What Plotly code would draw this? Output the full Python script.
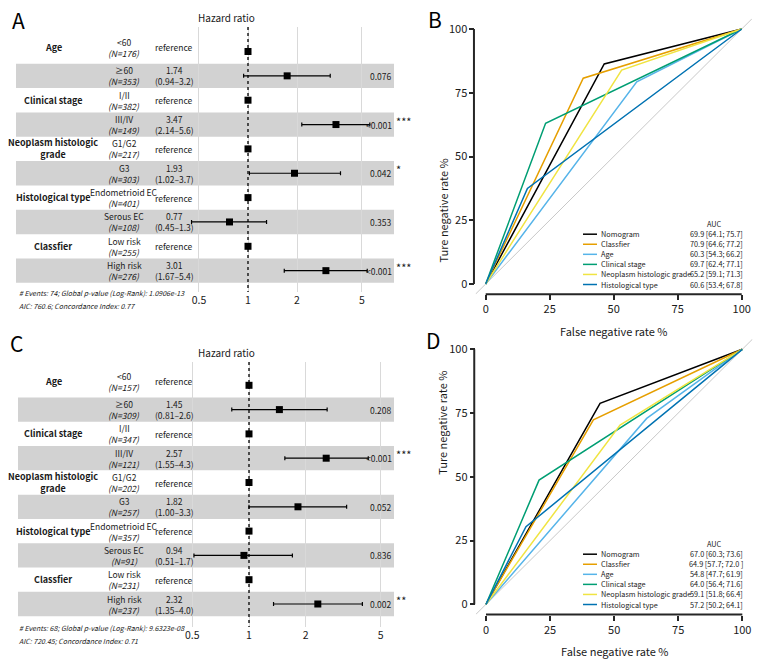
import plotly.graph_objects as go

W, H = 768, 672
FONT = "Noto Sans CJK JP, Liberation Sans, sans-serif"
TXT = "#1a1a1a"

# ---------------- data: forest plots ----------------
var_names = ["Age", "Clinical stage", "Neoplasm histologic|grade", "Histological type", "Classfier"]
var_rows = [1, 3, 5, 7, 9]
levels = ["<60", "≥60", "I/II", "III/IV", "G1/G2", "G3", "Endometrioid EC", "Serous EC", "Low risk", "High risk"]
hr_ticks = [0.5, 1, 2, 5]
hr_tick_text = ["0.5", "1", "2", "5"]

n_A = [176, 353, 382, 149, 217, 303, 401, 108, 255, 276]
hr_A = [1, 1.74, 1, 3.47, 1, 1.93, 1, 0.77, 1, 3.01]
lo_A = [None, 0.94, None, 2.14, None, 1.02, None, 0.45, None, 1.67]
hi_A = [None, 3.2, None, 5.6, None, 3.7, None, 1.3, None, 5.4]
p_A = [None, "0.076", None, "<0.001", None, "0.042", None, "0.353", None, "<0.001"]
sig_A = [None, "", None, "***", None, "*", None, "", None, "***"]
foot_A = ["# Events: 74; Global p-value (Log-Rank): 1.0906e-13", "AIC: 760.6; Concordance Index: 0.77"]

n_C = [157, 309, 347, 121, 202, 257, 357, 91, 231, 237]
hr_C = [1, 1.45, 1, 2.57, 1, 1.82, 1, 0.94, 1, 2.32]
lo_C = [None, 0.81, None, 1.55, None, 1.00, None, 0.51, None, 1.35]
hi_C = [None, 2.6, None, 4.3, None, 3.3, None, 1.7, None, 4.0]
p_C = [None, "0.208", None, "<0.001", None, "0.052", None, "0.836", None, "0.002"]
sig_C = [None, "", None, "***", None, "", None, "", None, "**"]
foot_C = ["# Events: 68; Global p-value (Log-Rank): 9.6323e-08", "AIC: 720.45; Concordance Index: 0.71"]

# ---------------- data: ROC curves ----------------
roc_models = ["Nomogram", "Classfier", "Age", "Clinical stage", "Neoplasm histologic grade", "Histological type"]
roc_colors = ["#000000", "#E69F00", "#56B4E9", "#009E73", "#F0E442", "#0072B2"]
fnr_B = [46.3, 38.1, 59.0, 23.4, 53.1, 16.3]
tnr_B = [86.3, 80.7, 79.3, 63.0, 83.9, 37.5]
auc_B = ["69.9 [64.1; 75.7]", "70.9 [64.6; 77.2]", "60.3 [54.3; 66.2]",
         "69.7 [62.4; 77.1]", "65.2 [59.1; 71.3]", "60.6 [53.4; 67.8]"]
fnr_D = [44.5, 41.9, 62.7, 20.7, 52.3, 15.6]
tnr_D = [78.8, 72.3, 72.9, 48.7, 70.3, 30.4]
auc_D = ["67.0 [60.3; 73.6]", "64.9 [57.7; 72.0 ]", "54.8 [47.7; 61.9]",
         "64.0 [56.4; 71.6]", "59.1 [51.8; 66.4]", "57.2 [50.2; 64.1]"]
roc_ticks = [0, 25, 50, 75, 100]


def px(x):
    return x / W


def py(y):
    return 1 - y / H


def esc(s):
    return s.replace("<", "&lt;")


fig = go.Figure()
anns = []
shapes = []
layout_axes = {}


def text(x, y, t, size=8.5, xanchor="center", xref="paper", yref="paper", yshift=0, color=TXT):
    anns.append(dict(x=x, y=y, text=t, xref=xref, yref=yref, xanchor=xanchor, yanchor="middle",
                     yshift=yshift, showarrow=False, font=dict(family=FONT, size=size, color=color)))


def forest(suffix, n, hr, lo, hi, pv, sig, foot, g):
    xr_, yr_ = "x" + suffix, "y" + suffix
    rows = list(range(1, len(hr) + 1))

    def v(p):
        return 1 + (p - g["r1"]) / g["pitch"]

    ref_i = [i for i in range(len(hr)) if lo[i] is None]
    est_i = [i for i in range(len(hr)) if lo[i] is not None]
    fig.add_trace(go.Scatter(x=[1, 1], y=[v(g["ytop"]), v(g["ybot"])], mode="lines",
                             line=dict(color="black", width=1.3, dash="dot"),
                             xaxis=xr_, yaxis=yr_, showlegend=False, hoverinfo="skip"))
    fig.add_trace(go.Scatter(x=[hr[i] for i in ref_i], y=[rows[i] for i in ref_i], mode="markers",
                             marker=dict(symbol="square", size=7, color="black"),
                             xaxis=xr_, yaxis=yr_, showlegend=False, hoverinfo="skip"))
    fig.add_trace(go.Scatter(x=[hr[i] for i in est_i], y=[rows[i] for i in est_i], mode="markers",
                             marker=dict(symbol="square", size=7, color="black"),
                             error_x=dict(type="data", symmetric=False,
                                          array=[hi[i] - hr[i] for i in est_i],
                                          arrayminus=[hr[i] - lo[i] for i in est_i],
                                          color="black", thickness=1.2, width=2),
                             xaxis=xr_, yaxis=yr_, showlegend=False, hoverinfo="skip"))
    layout_axes["xaxis" + suffix] = dict(
        domain=[px(g["xl"]), px(g["xr"])], type="log", anchor=yr_,
        range=[(g["xl"] - g["x1"]) / g["dec"], (g["xr"] - g["x1"]) / g["dec"]],
        tickvals=hr_ticks, ticktext=hr_tick_text, showgrid=True, gridcolor="#d9d9d9", gridwidth=1,
        zeroline=False, showline=False, ticks="", tickfont=dict(family=FONT, size=10.5, color=TXT))
    layout_axes["yaxis" + suffix] = dict(domain=[py(g["ybot"]), py(g["ytop"])], anchor=xr_,
                                         range=[v(g["ybot"]), v(g["ytop"])], visible=False)
    for r in rows:
        if r % 2 == 0:
            shapes.append(dict(type="rect", xref=xr_ + " domain", yref=yr_, x0=0, x1=1,
                               y0=r - 0.5, y1=r + 0.5, fillcolor="#d2d2d2", line=dict(width=0),
                               layer="below"))
    for name, r in zip(var_names, var_rows):
        s = 4 if r == 1 else 0
        label = "<br>".join("<b>" + p + "</b>" for p in name.split("|"))
        text(px(53), r, label, size=9, yref=yr_, yshift=s)
    for i, r in enumerate(rows):
        s = 4 if r == 1 else 0
        text(px(124), r, esc(levels[i]), yref=yr_, yshift=s + 5.5)
        text(px(124), r, "<i>(N=%d)</i>" % n[i], yref=yr_, yshift=s - 5.5)
        if lo[i] is None:
            text(px(174), r, "reference", yref=yr_, yshift=s)
        else:
            text(px(174), r, "%.2f" % hr[i], yref=yr_, yshift=s + 5.5)
            text(px(174), r, "(%.2f–%.1f)" % (lo[i], hi[i]), yref=yr_, yshift=s - 5.5)
            text(px(393.5), r, esc(pv[i]), yref=yr_, xanchor="right")
            if sig[i]:
                text(px(393.5), r, sig[i], size=11, yref=yr_, xanchor="left", yshift=4)
    text(px(226), py(g["ytop"] - 10), "Hazard ratio", size=10)
    text(px(17), py(g["ybot"] + 1), "<i>" + esc(foot[0]) + "</i>", size=7, xanchor="left")
    text(px(17), py(g["ybot"] + 14), "<i>" + esc(foot[1]) + "</i>", size=7, xanchor="left")


def roc(suffix, fnr, tnr, auc, g):
    xr_, yr_ = "x" + suffix, "y" + suffix
    ux = (g["x100"] - g["x0"]) / 100
    uy = (g["y0"] - g["y100"]) / 100
    xl, xr = g["x0"] - 4 * ux, g["x100"] + 4 * ux
    yb, yt = g["y0"] + 4 * uy, g["y100"] - 4 * uy
    fig.add_trace(go.Scatter(x=[-4, 104], y=[-4, 104], mode="lines", line=dict(color="#c8c8c8", width=1),
                             xaxis=xr_, yaxis=yr_, showlegend=False, hoverinfo="skip"))
    for m, c, fx, ty in zip(roc_models, roc_colors, fnr, tnr):
        fig.add_trace(go.Scatter(x=[0, fx, 100], y=[0, ty, 100], mode="lines", name=m,
                                 line=dict(color=c, width=1.5), xaxis=xr_, yaxis=yr_,
                                 showlegend=False, hoverinfo="skip"))
    ax_common = dict(range=[-4, 104], tickvals=roc_ticks, showgrid=False, zeroline=False, showline=False,
                     ticks="outside", ticklen=5, tickwidth=1.5, tickcolor="#262626",
                     tickfont=dict(family=FONT, size=11, color=TXT))
    layout_axes["xaxis" + suffix] = dict(domain=[px(xl), px(xr)], anchor=yr_, **ax_common)
    layout_axes["yaxis" + suffix] = dict(domain=[py(yb), py(yt)], anchor=xr_, **ax_common)
    shapes.append(dict(type="line", xref=xr_ + " domain", yref=yr_, x0=-1.5 / (xr - xl), x1=-1.5 / (xr - xl),
                       y0=0, y1=100, line=dict(color="#262626", width=2)))
    shapes.append(dict(type="line", xref=xr_, yref=yr_ + " domain", x0=0, x1=100, y0=0, y1=0,
                       line=dict(color="#262626", width=2)))
    text(px((g["x0"] + g["x100"]) / 2), py(g["y0"] + 47), "False negative rate %", size=11)
    anns.append(dict(x=px(442), y=py((g["y0"] + g["y100"]) / 2), text="Ture negative rate %", textangle=-90,
                     xref="paper", yref="paper", showarrow=False,
                     font=dict(family=FONT, size=11, color=TXT)))
    top = g["leg"]
    text(px(714), py(top - 10.5), "AUC", size=7.3)
    for i, (m, c, a) in enumerate(zip(roc_models, roc_colors, auc)):
        yy = top + i * 10.06
        shapes.append(dict(type="line", xref="paper", yref="paper", x0=px(583), x1=px(597),
                           y0=py(yy), y1=py(yy), line=dict(color=c, width=1.5)))
        text(px(598.5), py(yy), m, size=7.3, xanchor="left")
        text(px(745), py(yy), a, size=7.3, xanchor="right")


forest("", n_A, hr_A, lo_A, hi_A, p_A, sig_A, foot_A,
       dict(xl=16, xr=394, x1=248, dec=162.8, ytop=27, ybot=292, r1=51.5, pitch=24.35))
forest("3", n_C, hr_C, lo_C, hi_C, p_C, sig_C, foot_C,
       dict(xl=18, xr=394, x1=249, dec=188.3, ytop=362, ybot=627, r1=385.3, pitch=24.3))
roc("2", fnr_B, tnr_B, auc_B, dict(x0=485.7, x100=741.7, y0=284, y100=29, leg=234.2))
roc("4", fnr_D, tnr_D, auc_D, dict(x0=486, x100=742.3, y0=604.3, y100=349.3, leg=554.2))

for lab, x, y in [("A", 18, 20.5), ("B", 435, 19.5), ("C", 16.7, 342.5), ("D", 433, 339.5)]:
    text(px(x), py(y), lab, size=21, color="#000000")

fig.update_layout(width=W, height=H, margin=dict(l=0, r=0, t=0, b=0),
                  paper_bgcolor="white", plot_bgcolor="white",
                  annotations=anns, shapes=shapes, **layout_axes)
fig.write_html("out.html", config={"displayModeBar": False},
               post_script="document.body.style.margin='0';document.body.style.padding='0';")
